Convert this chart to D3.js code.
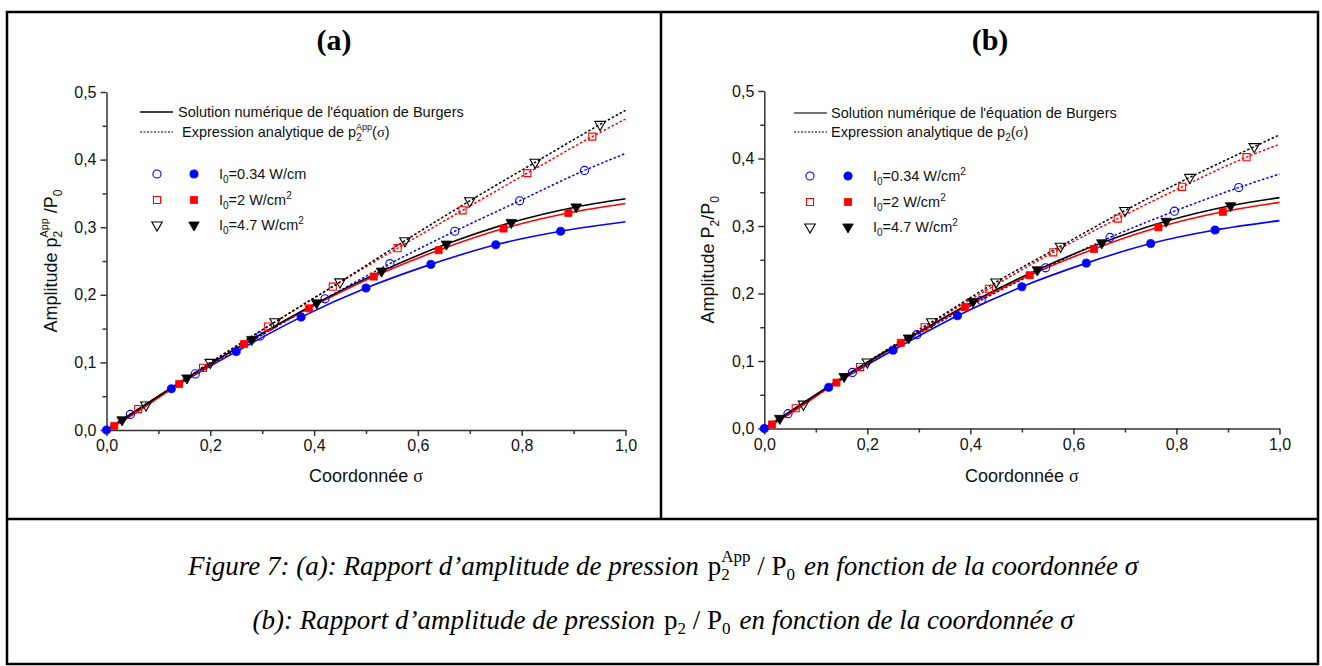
<!DOCTYPE html>
<html>
<head>
<meta charset="utf-8">
<script src="https://cdn.jsdelivr.net/npm/d3@7"></script>
<style>
  body { margin: 0; background: #fff; }
  svg { display: block; }
</style>
</head>
<body>
<svg id="fig" width="1322" height="666"></svg>
<script>
// ---- Axis ticks ----
const xTicks = [0, 0.2, 0.4, 0.6, 0.8, 1.0];
const xMinorTicks = [0.1, 0.3, 0.5, 0.7, 0.9];
const yTicks = [0, 0.1, 0.2, 0.3, 0.4, 0.5];
const yMinorTicks = [0.05, 0.15, 0.25, 0.35, 0.45];

// ---- Numerical solution of Burgers' equation (solid curves, filled markers) ----
const numSigma034 = [0, 0.125, 0.25, 0.375, 0.5, 0.625, 0.75, 0.875];
const numValue034 = [0, 0.061, 0.116, 0.167, 0.210, 0.245, 0.274, 0.294];
const numEnd034 = 0.308;
const numSigma2 = [0.015, 0.14, 0.265, 0.39, 0.515, 0.64, 0.765, 0.89];
const numValue2 = [0.006, 0.068, 0.127, 0.180, 0.227, 0.266, 0.298, 0.321];
const numEnd2 = 0.335;
const numSigma47 = [0.03, 0.155, 0.28, 0.405, 0.53, 0.655, 0.78, 0.905];
const numValue47 = [0.015, 0.077, 0.134, 0.188, 0.235, 0.275, 0.307, 0.330];
const numEnd47 = 0.342;

// ---- Analytic expression, open markers: sigma positions (both panels) ----
const anaSigma034 = [0.046, 0.171, 0.296, 0.421, 0.546, 0.671, 0.796, 0.921];
const anaSigma2 = [0.061, 0.186, 0.311, 0.436, 0.561, 0.686, 0.811, 0.936];
const anaSigma47 = [0.076, 0.2, 0.325, 0.45, 0.575, 0.7, 0.826, 0.951];

// Panel (a): p2^App / P0
const appValue034 = [0.023, 0.083, 0.139, 0.194, 0.246, 0.294, 0.339, 0.384];
const appEnd034 = 0.409;
const appValue2 = [0.031, 0.092, 0.153, 0.212, 0.269, 0.325, 0.380, 0.434];
const appEnd2 = 0.460;
const appValue47 = [0.037, 0.100, 0.160, 0.219, 0.280, 0.339, 0.396, 0.452];
const appEnd47 = 0.473;

// Panel (b): p2 / P0
const p2Value034 = [0.022, 0.083, 0.139, 0.190, 0.238, 0.283, 0.322, 0.357];
const p2End034 = 0.377;
const p2Value2 = [0.030, 0.091, 0.150, 0.207, 0.261, 0.311, 0.358, 0.402];
const p2End2 = 0.421;
const p2Value47 = [0.036, 0.0985, 0.158, 0.217, 0.270, 0.323, 0.372, 0.4175];
const p2End47 = 0.435;

// ---- Styles ----
const BLUE = "#0000ff", RED = "#ff0000", BLACK = "#000000";
const SANS = "'Liberation Sans', Arial, sans-serif";
const SERIF = "'Liberation Serif', 'Times New Roman', serif";
const fmt = d3.formatLocale({ decimal: ",", thousands: " ", grouping: [3], currency: ["", ""] }).format(".1f");

const svg = d3.select("#fig");

// ---- Figure frame ----
svg.append("rect").attr("x", 7).attr("y", 12).attr("width", 1311).attr("height", 652)
  .attr("fill", "none").attr("stroke", "#000").attr("stroke-width", 2.5);
svg.append("line").attr("x1", 661).attr("x2", 661).attr("y1", 12).attr("y2", 519)
  .attr("stroke", "#000").attr("stroke-width", 2.5);
svg.append("line").attr("x1", 7).attr("x2", 1318).attr("y1", 519).attr("y2", 519)
  .attr("stroke", "#000").attr("stroke-width", 2.5);

function pts(sig, val, end) {
  const p = sig.map((s, i) => [s, val[i]]);
  if (sig[0] > 0) p.unshift([0, 0]);
  p.push([1, end]);
  return p;
}

function subSup(textSel, base, sub, sup, size, subSize) {
  // base letter with stacked subscript / superscript
  textSel.append("tspan").text(base);
  textSel.append("tspan").attr("dy", size * 0.28).style("font-size", subSize + "px").text(sub);
  if (sup) {
    textSel.append("tspan").attr("dx", -subSize * 0.56).attr("dy", -size * 0.75)
      .style("font-size", subSize * 0.9 + "px").text(sup);
    return size * 0.47; // offset to return to baseline
  }
  return -size * 0.28;
}

function drawPanel(cfg) {
  const g = svg.append("g");
  const x = d3.scaleLinear().domain([0, 1]).range([cfg.left, cfg.right]);
  const y = d3.scaleLinear().domain([0, 0.5]).range([cfg.bottom, cfg.top]);

  // title
  g.append("text").attr("x", cfg.titleX).attr("y", 50).attr("text-anchor", "middle")
    .style("font-family", SERIF).style("font-weight", "bold").style("font-size", "30px")
    .text(cfg.title);

  // axes
  const styleAxis = (a) => {
    a.selectAll(".domain").attr("stroke", "#333").attr("stroke-width", 1.5);
    a.selectAll(".tick line").attr("stroke", "#333").attr("stroke-width", 1.5);
    a.selectAll(".tick text").attr("fill", "#111").style("font-family", SANS).style("font-size", "16px");
    a.attr("font-size", null).attr("font-family", null);
  };
  g.append("g").attr("transform", `translate(0,${cfg.bottom})`)
    .call(d3.axisBottom(x).tickValues(xMinorTicks).tickSize(4).tickFormat("").tickSizeOuter(0))
    .call(a => { a.select(".domain").remove(); styleAxis(a); });
  g.append("g").attr("transform", `translate(${cfg.left},0)`)
    .call(d3.axisLeft(y).tickValues(yMinorTicks).tickSize(4).tickFormat("").tickSizeOuter(0))
    .call(a => { a.select(".domain").remove(); styleAxis(a); });
  g.append("g").attr("transform", `translate(0,${cfg.bottom})`)
    .call(d3.axisBottom(x).tickValues(xTicks).tickSize(6).tickPadding(4).tickFormat(fmt).tickSizeOuter(0))
    .call(styleAxis);
  g.append("g").attr("transform", `translate(${cfg.left},0)`)
    .call(d3.axisLeft(y).tickValues(yTicks).tickSize(6).tickPadding(4).tickFormat(fmt).tickSizeOuter(0))
    .call(styleAxis);

  // axis titles
  const xt = g.append("text").attr("x", (cfg.left + cfg.right) / 2).attr("y", 482)
    .attr("text-anchor", "middle").style("font-family", SANS).style("font-size", "18px").attr("fill", "#111");
  xt.append("tspan").text("Coordonnée ");
  xt.append("tspan").style("font-family", SERIF).text("σ");

  const cy = (cfg.top + cfg.bottom) / 2;
  const yt = g.append("text").attr("transform", `translate(${cfg.left - 50},${cy}) rotate(-90)`)
    .attr("text-anchor", "middle").style("font-family", SANS).style("font-size", "18px").attr("fill", "#111");
  yt.append("tspan").text("Amplitude ");
  const back = subSup(yt, cfg.yBase, "2", cfg.ySup, 18, 12);
  yt.append("tspan").attr("dy", back).text(cfg.ySup ? " /P" : "/P");
  yt.append("tspan").attr("dy", 18 * 0.28).style("font-size", "12px").text("0");

  const line = d3.line().x(d => x(d[0])).y(d => y(d[1])).curve(d3.curveMonotoneX);

  // analytic curves (dotted)
  cfg.series.forEach(s => {
    g.append("path").datum(pts(s.aSig, s.aVal, s.aEnd))
      .attr("d", line).attr("fill", "none").attr("stroke", s.color)
      .attr("stroke-width", 1.5).attr("stroke-dasharray", "2.5,2");
  });
  // numerical curves (solid)
  cfg.series.forEach(s => {
    g.append("path").datum(pts(s.nSig, s.nVal, s.nEnd))
      .attr("d", line).attr("fill", "none").attr("stroke", s.color).attr("stroke-width", 1.6);
  });

  const sym = (type, size) => d3.symbol().type(type).size(size)();
  const rot = s => s.type === d3.symbolTriangle ? " rotate(180)" : "";

  cfg.series.forEach(s => {
    // open markers on analytic curves
    g.selectAll(null).data(s.aSig.map((v, i) => [v, s.aVal[i]])).enter().append("path")
      .attr("d", sym(s.type, s.size))
      .attr("transform", d => `translate(${x(d[0])},${y(d[1])})${rot(s)}`)
      .attr("fill", "none").attr("stroke", s.color).attr("stroke-width", 1.1);
    // filled markers on numerical curves
    g.selectAll(null).data(s.nSig.map((v, i) => [v, s.nVal[i]])).enter().append("path")
      .attr("d", sym(s.type, s.size))
      .attr("transform", d => `translate(${x(d[0])},${y(d[1])})${rot(s)}`)
      .attr("fill", s.color).attr("stroke", s.color).attr("stroke-width", 0.8);
  });

  // legend
  const L = cfg.legend;
  const lg = g.append("g").style("font-family", SANS).style("font-size", "14.5px").attr("fill", "#111");
  lg.append("line").attr("x1", L.lineX0).attr("x2", L.lineX1).attr("y1", L.row1).attr("y2", L.row1)
    .attr("stroke", cfg.legendSolid).attr("stroke-width", 1.5);
  lg.append("text").attr("x", L.text1X).attr("y", L.row1 + 5).text("Solution numérique de l'équation de Burgers");
  lg.append("line").attr("x1", L.lineX0).attr("x2", L.lineX1).attr("y1", L.row2).attr("y2", L.row2)
    .attr("stroke", "#000").attr("stroke-width", 1.2).attr("stroke-dasharray", "2,1.5");
  const t2 = lg.append("text").attr("x", L.text2X).attr("y", L.row2 + 5);
  t2.append("tspan").text("Expression analytique de ");
  const b2 = subSup(t2, "p", "2", cfg.ySup, 14.5, 10);
  t2.append("tspan").attr("dy", b2).text("(");
  t2.append("tspan").style("font-family", SERIF).text("σ");
  t2.append("tspan").text(")");

  cfg.series.forEach((s, i) => {
    const ry = L.markRows[i];
    lg.append("path").attr("d", sym(s.type, s.size))
      .attr("transform", `translate(${L.openX},${ry})${rot(s)}`)
      .attr("fill", "none").attr("stroke", s.color).attr("stroke-width", 1.1);
    lg.append("path").attr("d", sym(s.type, s.size))
      .attr("transform", `translate(${L.fillX},${ry})${rot(s)}`)
      .attr("fill", s.color).attr("stroke", s.color).attr("stroke-width", 0.8);
    const t = lg.append("text").attr("x", L.labelX).attr("y", ry + 5);
    t.append("tspan").text("I");
    t.append("tspan").attr("dy", 4).style("font-size", "10px").text("0");
    t.append("tspan").attr("dy", -4).text("=" + s.label + " W/cm");
    if (s.sq) t.append("tspan").attr("dy", -6).style("font-size", "10px").text("2");
  });
}

const mk = (ana, anaEnd, sqFirst) => [
  { color: BLUE, type: d3.symbolCircle, size: 52, label: "0.34", sq: sqFirst,
    nSig: numSigma034, nVal: numValue034, nEnd: numEnd034,
    aSig: anaSigma034, aVal: ana[0], aEnd: anaEnd[0] },
  { color: RED, type: d3.symbolSquare, size: 50, label: "2", sq: true,
    nSig: numSigma2, nVal: numValue2, nEnd: numEnd2,
    aSig: anaSigma2, aVal: ana[1], aEnd: anaEnd[1] },
  { color: BLACK, type: d3.symbolTriangle, size: 48, label: "4.7", sq: true,
    nSig: numSigma47, nVal: numValue47, nEnd: numEnd47,
    aSig: anaSigma47, aVal: ana[2], aEnd: anaEnd[2] }
];

drawPanel({
  title: "(a)", titleX: 334, left: 106.5, right: 625.5, top: 92, bottom: 430,
  yBase: "p", ySup: "App", legendSolid: "#000",
  series: mk([appValue034, appValue2, appValue47], [appEnd034, appEnd2, appEnd47], false),
  legend: { lineX0: 140, lineX1: 173, row1: 112, row2: 132, text1X: 178, text2X: 182,
            markRows: [174, 200, 225], openX: 157, fillX: 194, labelX: 219 }
});
drawPanel({
  title: "(b)", titleX: 990, left: 764.3, right: 1279.5, top: 91, bottom: 428.5,
  yBase: "P", ySup: null, legendSolid: "#444",
  series: mk([p2Value034, p2Value2, p2Value47], [p2End034, p2End2, p2End47], true),
  legend: { lineX0: 794, lineX1: 827, row1: 113, row2: 132, text1X: 831, text2X: 831,
            markRows: [176, 202, 227], openX: 810, fillX: 848, labelX: 873 }
});

// ---- Caption ----
function caption(yPos, lead, sup) {
  const t = svg.append("text").attr("x", 663).attr("y", yPos).attr("text-anchor", "middle")
    .style("font-family", SERIF).style("font-size", "27px").attr("fill", "#000");
  t.append("tspan").style("font-style", "italic").text(lead);
  t.append("tspan").attr("dx", 9).text("p");
  t.append("tspan").attr("dy", 5).style("font-size", "17px").text("2");
  if (sup) {
    t.append("tspan").attr("dx", -8.5).attr("dy", -18).style("font-size", "17px").text(sup);
    t.append("tspan").attr("dy", 13).text(" / P");
  } else {
    t.append("tspan").attr("dy", -5).text(" / P");
  }
  t.append("tspan").attr("dy", 5).style("font-size", "17px").text("0");
  t.append("tspan").attr("dy", -5).attr("dx", 9).style("font-style", "italic").text("en fonction de la coordonnée ");
  t.append("tspan").style("font-style", "italic").text("σ");
}
caption(575, "Figure 7: (a): Rapport d’amplitude de pression", "App");
caption(629, "(b): Rapport d’amplitude de pression", null);
</script>
</body>
</html>
